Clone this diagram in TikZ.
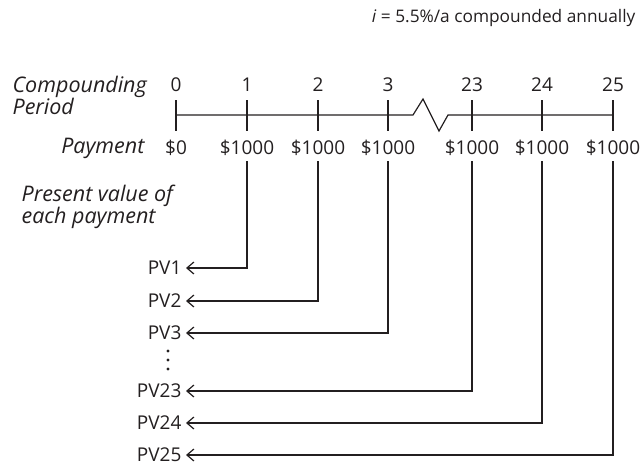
\documentclass[tikz,border=0pt]{standalone}
\usepackage{fontspec}
\setmainfont{Open Sans}
\usetikzlibrary{arrows.meta}
\definecolor{ink}{HTML}{231F20}

\begin{document}
\begin{tikzpicture}[x=1pt,y=-1pt,>={Straight Barb[length=7pt,width=12pt]},
  line width=1.2pt,draw=ink,
  every node/.style={font=\fontsize{19}{21}\selectfont,text=ink,inner sep=1pt},
  rowtitle/.style={font=\fontsize{21.5}{22}\selectfont\itshape}]
  \useasboundingbox (0,0) rectangle (642,466);
  \node[anchor=east,font=\fontsize{17.3}{20}\selectfont] (rate) at (637,18) {\textit{i} = 5.5\%/a compounded annually};
  % row titles
  \node[rowtitle,anchor=west,align=left] (cp) at (11,95.5) {Compounding\\Period};
  \node[rowtitle,anchor=east] (paytitle) at (146,148) {Payment};
  \node[rowtitle,anchor=west,align=left] (pvtitle) at (20,207) {Present value of\\each payment};
  % time line with a break between 3 and 23
  \draw (176,115) -- (413,115) -- (423,99) -- (439,131) -- (448,115) -- (613,115);
  \draw (176,100) -- (176,131);
  \node (t0) at (176,85) {0};
  \node (pay0) at (176,148) {\$0};
  \foreach \n/\x/\y in {1/247/268,2/318/301,3/388/333,23/472/391,24/542/423,25/613/455}{
    \draw (\x,100) -- (\x,131);
    \node (t\n) at (\x,85) {\n};
    \node (pay\n) at (\x,148) {\$1000};
    \node[anchor=east] (pv\n) at (183,\y) {PV\n};
    \draw[->] ([yshift=-4pt]pay\n.south) |- ([xshift=3pt]pv\n.east);
  }
  % ellipsis between PV3 and PV23
  \foreach \y in {351,360,369} \fill[ink] (168,\y) circle (1.6);
\end{tikzpicture}
\end{document}
